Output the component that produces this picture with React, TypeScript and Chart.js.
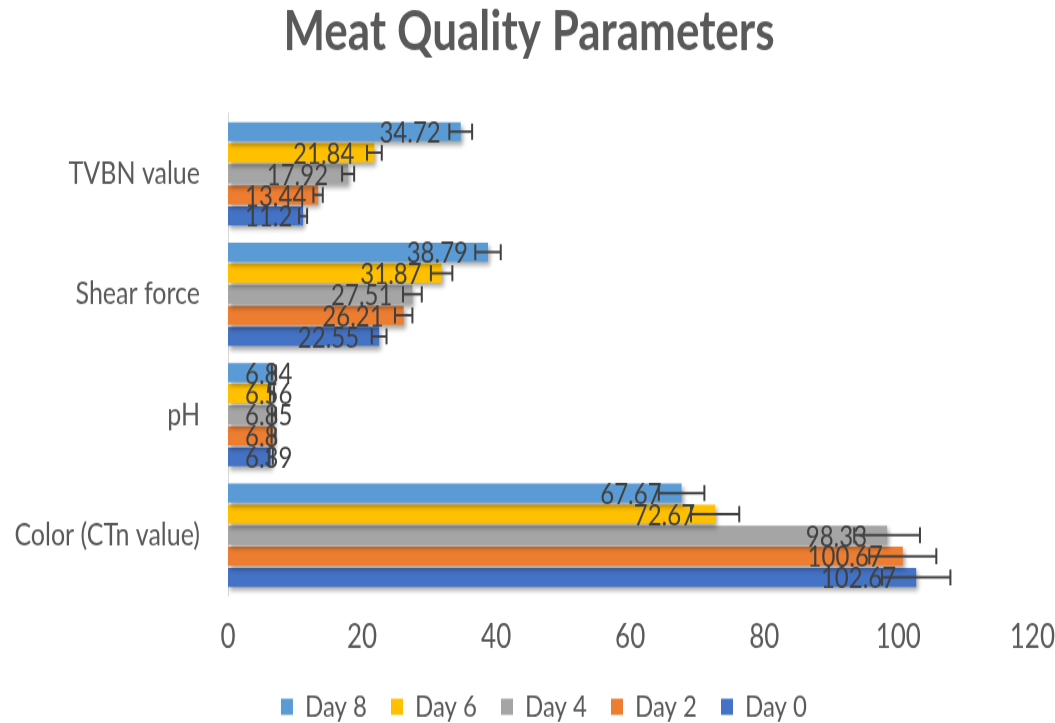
import React, { useEffect, useRef } from 'react';
import { Chart, registerables } from 'chart.js';

Chart.register(...registerables);

const categories = ['TVBN value', 'Shear force', 'pH', 'Color (CTn value)'];
const seriesNames = ['Day 8', 'Day 6', 'Day 4', 'Day 2', 'Day 0'];
const day8 = [34.72, 38.79, 6.84, 67.67];
const day6 = [21.84, 31.87, 6.56, 72.67];
const day4 = [17.92, 27.51, 6.85, 98.33];
const day2 = [13.44, 26.21, 6.8, 100.67];
const day0 = [11.2, 22.55, 6.39, 102.67];
const err8 = [1.7, 1.9, 0.3, 3.4];
const err6 = [1.1, 1.6, 0.3, 3.6];
const err4 = [0.9, 1.4, 0.3, 4.9];
const err2 = [0.7, 1.3, 0.3, 5.0];
const err0 = [0.6, 1.1, 0.3, 5.1];
const xTicks = [0, 20, 40, 60, 80, 100, 120];
const seriesColors = ['#5B9BD5', '#FFC000', '#A5A5A5', '#ED7D31', '#4472C4'];

const seriesValues = [day8, day6, day4, day2, day0];
const seriesErrors = [err8, err6, err4, err2, err0];

const W = 1055;
const H_OUT = 723;
const H = 578;
const SY = H_OUT / H;
const FONT = 'Lato, "Open Sans", sans-serif';
const LEGEND_SHIFT = 15;

const overlayPlugin = {
  id: 'overlay',
  afterLayout(chart: any) {
    const lg = chart.legend;
    if (lg) {
      lg.left += LEGEND_SHIFT;
      lg.right += LEGEND_SHIFT;
    }
  },
  beforeDatasetsDraw(chart: any) {
    const ctx = chart.ctx;
    ctx.save();
    ctx.shadowColor = 'rgba(0,0,0,0.35)';
    ctx.shadowBlur = 4;
    ctx.shadowOffsetX = 2;
    ctx.shadowOffsetY = 3;
  },
  afterDatasetsDraw(chart: any) {
    const ctx = chart.ctx;
    ctx.restore();
    const xs = chart.scales.x;
    const area = chart.chartArea;
    ctx.save();
    // error bars
    ctx.strokeStyle = '#404040';
    ctx.lineWidth = 2;
    chart.data.datasets.forEach((ds: any, i: number) => {
      const meta = chart.getDatasetMeta(i);
      meta.data.forEach((bar: any, j: number) => {
        const v = ds.data[j];
        const e = ds.errors[j];
        const x1 = xs.getPixelForValue(v - e);
        const x2 = xs.getPixelForValue(v + e);
        const y = bar.y;
        const c = 6.4;
        ctx.beginPath();
        ctx.moveTo(x1, y);
        ctx.lineTo(x2, y);
        ctx.moveTo(x1, y - c);
        ctx.lineTo(x1, y + c);
        ctx.moveTo(x2, y - c);
        ctx.lineTo(x2, y + c);
        ctx.stroke();
      });
    });
    // value labels
    ctx.fillStyle = '#404040';
    ctx.font = `24px ${FONT}`;
    ctx.textBaseline = 'middle';
    ctx.textAlign = 'left';
    chart.data.datasets.forEach((ds: any, i: number) => {
      const meta = chart.getDatasetMeta(i);
      meta.data.forEach((bar: any, j: number) => {
        const txt = String(ds.data[j]);
        const w = ctx.measureText(txt).width;
        const xl = Math.max(bar.x - 20 - w, area.left + 17);
        ctx.fillText(txt, xl, bar.y + 1);
      });
    });
    ctx.restore();
  },
};

export default function App() {
  const ref = useRef<HTMLCanvasElement>(null);
  useEffect(() => {
    const chart = new Chart(ref.current as HTMLCanvasElement, {
      type: 'bar',
      data: {
        labels: categories,
        datasets: seriesNames.map((name, i) => ({
          label: name,
          data: seriesValues[i],
          errors: seriesErrors[i],
          backgroundColor: seriesColors[i],
          borderWidth: 0,
          categoryPercentage: 0.875,
          barPercentage: 0.9,
        })) as any,
      },
      options: {
        indexAxis: 'y',
        animation: false,
        responsive: false,
        devicePixelRatio: 1,
        layout: { padding: { left: 8, right: 5, top: 0, bottom: -9 } },
        plugins: {
          title: {
            display: true,
            text: 'Meat Quality Parameters',
            color: '#595959',
            font: { family: FONT, size: 44, weight: 'bold', lineHeight: 1.2 },
            padding: { top: -1, bottom: 39 },
          },
          legend: {
            position: 'bottom',
            labels: {
              boxWidth: 12,
              boxHeight: 13,
              padding: 24,
              color: '#595959',
              font: { family: FONT, size: 24 },
            },
          },
          tooltip: { enabled: false },
        },
        scales: {
          x: {
            min: 0,
            max: 120,
            afterBuildTicks: (s: any) => {
              s.ticks = xTicks.map((v) => ({ value: v }));
            },
            ticks: { color: '#595959', font: { family: FONT, size: 26 }, padding: 0 },
            grid: { display: false, drawTicks: true, tickLength: 18 },
            border: { display: false },
            afterFit: (s: any) => {
              s.height = 53;
            },
          },
          y: {
            ticks: { color: '#595959', font: { family: FONT, size: 25 }, padding: 28 },
            grid: { display: false, drawTicks: false },
            border: { display: true, color: '#d9d9d9', width: 1 },
            afterFit: (s: any) => {
              s.width = 220;
            },
          },
        },
      } as any,
      plugins: [overlayPlugin],
    });
    return () => chart.destroy();
  }, []);

  return (
    <div
      style={{
        position: 'fixed',
        left: 0,
        top: 0,
        width: W,
        height: H_OUT,
        overflow: 'hidden',
        background: '#ffffff',
      }}
    >
      <div style={{ width: W, height: H, transform: `scaleY(${SY})`, transformOrigin: '0 0' }}>
        <canvas ref={ref} width={W} height={H} style={{ display: 'block', width: W, height: H }} />
      </div>
    </div>
  );
}
